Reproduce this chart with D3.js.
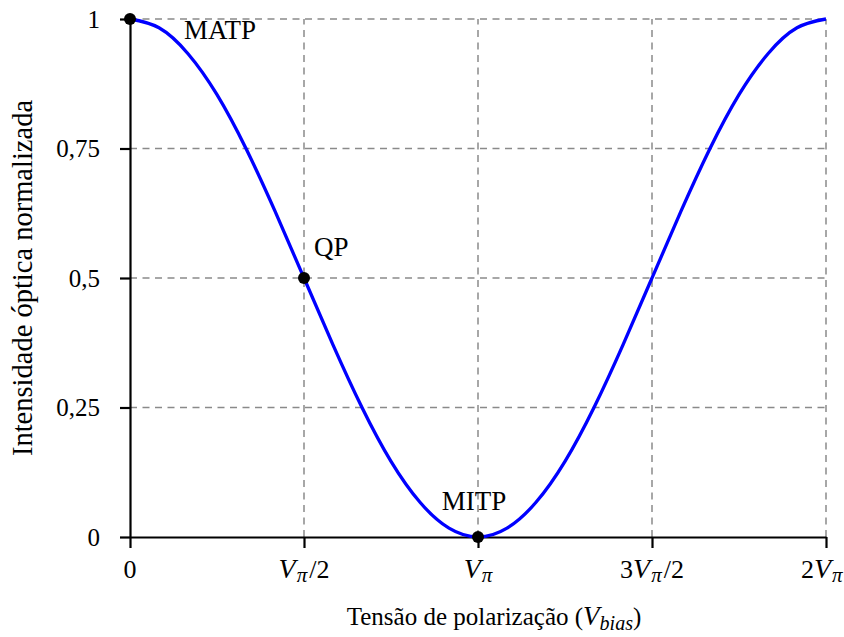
<!DOCTYPE html>
<html>
<head>
<meta charset="utf-8">
<script src="https://cdn.jsdelivr.net/npm/d3@7/dist/d3.min.js"></script>
<style>
  html, body { margin: 0; padding: 0; background: #fff; }
  svg { display: block; }
  text { font-family: "Liberation Serif", "Times New Roman", serif; fill: #000; }
</style>
</head>
<body>
<svg id="chart" width="844" height="637"></svg>
<script>
// Bias voltage in units of V_pi, and the normalised optical intensity at each step
const biasV = [0, 1/12, 2/12, 3/12, 4/12, 5/12, 6/12, 7/12, 8/12, 9/12, 10/12, 11/12, 1,
               13/12, 14/12, 15/12, 16/12, 17/12, 18/12, 19/12, 20/12, 21/12, 22/12, 23/12, 2];
const intensity = [1, 0.983, 0.933, 0.854, 0.75, 0.629, 0.5, 0.371, 0.25, 0.146, 0.067, 0.017, 0,
                   0.017, 0.067, 0.146, 0.25, 0.371, 0.5, 0.629, 0.75, 0.854, 0.933, 0.983, 1];

// Operating points
const pointNames = ["MATP", "QP", "MITP"];
const pointBias = [0, 0.5, 1];
const pointIntensity = [1, 0.5, 0];

// Axis ticks
const xTicks = [0, 0.5, 1, 1.5, 2];
const xTickLabels = ["0", "Vπ/2", "Vπ", "3Vπ/2", "2Vπ"];
const yTicks = [0, 0.25, 0.5, 0.75, 1];
const yTickLabels = ["0", "0,25", "0,5", "0,75", "1"];

const xTitle = "Tensão de polarização (";
const yTitle = "Intensidade óptica normalizada";

const serif = "Liberation Serif, Times New Roman, serif";
const W = 844;
const svg = d3.select("#chart");
const plotLeft = 130, plotRight = 826, plotTop = 19, plotBottom = 537;

const x = d3.scaleLinear().domain([0, 2]).range([plotLeft, plotRight]);
const y = d3.scaleLinear().domain([0, 1]).range([plotBottom, plotTop]);

// Dashed grid
const grid = svg.append("g")
  .attr("stroke", "#8a8a8a").attr("stroke-width", 1.5).attr("stroke-dasharray", "7,5.5");
grid.selectAll("line.v").data(xTicks.filter(d => d > 0)).join("line")
  .attr("class", "v")
  .attr("x1", d => x(d)).attr("x2", d => x(d))
  .attr("y1", y(0)).attr("y2", y(1));
grid.selectAll("line.h").data(yTicks.filter(d => d > 0)).join("line")
  .attr("class", "h")
  .attr("x1", x(0)).attr("x2", x(2))
  .attr("y1", d => y(d)).attr("y2", d => y(d));

// Axes
const yAxis = svg.append("g")
  .attr("transform", `translate(${plotLeft},0)`)
  .call(d3.axisLeft(y).tickValues(yTicks).tickSize(10).tickSizeOuter(0).tickPadding(20)
        .tickFormat((d, i) => yTickLabels[i]));
yAxis.attr("font-family", serif);
yAxis.select(".domain").attr("stroke", "#000").attr("stroke-width", 2.2);
yAxis.selectAll(".tick line").attr("stroke", "#000").attr("stroke-width", 2.2);
yAxis.selectAll(".tick text")
  .attr("font-family", serif).attr("font-size", 25).attr("fill", "#000")
  .attr("dy", "0.33em");

const xAxis = svg.append("g")
  .attr("transform", `translate(0,${plotBottom})`)
  .call(d3.axisBottom(x).tickValues(xTicks).tickSize(11).tickSizeOuter(0).tickFormat(() => ""));
xAxis.select(".domain").attr("stroke", "#000").attr("stroke-width", 2.2);
xAxis.selectAll(".tick line").attr("stroke", "#000").attr("stroke-width", 2.2);
xAxis.selectAll(".tick text").remove();

// x tick labels with math-style V_pi
const xLab = svg.append("g");
xTicks.forEach((v, i) => {
  const parts = xTickLabels[i].split("Vπ");
  const t = xLab.append("text")
    .attr("x", x(v)).attr("y", 578)
    .attr("text-anchor", "middle")
    .attr("font-family", serif)
    .attr("font-size", 26);
  if (parts.length === 1) {
    t.text(parts[0]);
  } else {
    if (parts[0]) t.append("tspan").text(parts[0]);
    t.append("tspan").attr("font-style", "italic").attr("font-size", 28).text("V");
    t.append("tspan").attr("font-style", "italic").attr("font-size", 21)
      .attr("dx", 1).attr("dy", 4).text("π");
    if (parts[1]) t.append("tspan").attr("dx", 2).attr("dy", -4).text(parts[1]);
  }
  // keep the label inside the drawing area
  const bb = t.node().getBBox();
  if (bb.x + bb.width > W - 1) {
    t.attr("x", x(v) - (bb.x + bb.width - (W - 1)));
  }
});

// Axis titles
const xt = svg.append("text")
  .attr("x", 494).attr("y", 625)
  .attr("text-anchor", "middle")
  .attr("font-family", serif)
  .attr("font-size", 25);
xt.append("tspan").text(xTitle);
xt.append("tspan").attr("font-style", "italic").attr("font-size", 27).text("V");
xt.append("tspan").attr("font-style", "italic").attr("font-size", 20).attr("dy", 5).text("bias");
xt.append("tspan").attr("dy", -5).text(")");

svg.append("text")
  .attr("transform", `translate(32,${(plotTop + plotBottom) / 2}) rotate(-90)`)
  .attr("text-anchor", "middle")
  .attr("font-family", serif)
  .attr("font-size", 28.5)
  .text(yTitle);

// Transfer curve
const curveData = biasV.map((v, i) => [v, intensity[i]]);
svg.append("path")
  .datum(curveData)
  .attr("fill", "none")
  .attr("stroke", "#0000ff")
  .attr("stroke-width", 3.3)
  .attr("d", d3.line().x(d => x(d[0])).y(d => y(d[1])).curve(d3.curveNatural));

// Operating points and their labels
svg.selectAll("circle.pt").data(pointBias).join("circle")
  .attr("class", "pt")
  .attr("cx", d => x(d)).attr("cy", (d, i) => y(pointIntensity[i]))
  .attr("r", 6).attr("fill", "#000");

const labelOffset = [[54, 20], [10, -22], [-4, -27]];
const labelAnchor = ["start", "start", "middle"];
svg.selectAll("text.pt").data(pointNames).join("text")
  .attr("class", "pt")
  .attr("x", (d, i) => x(pointBias[i]) + labelOffset[i][0])
  .attr("y", (d, i) => y(pointIntensity[i]) + labelOffset[i][1])
  .attr("text-anchor", (d, i) => labelAnchor[i])
  .attr("font-family", serif)
  .attr("font-size", 27)
  .text(d => d);
</script>
</body>
</html>
